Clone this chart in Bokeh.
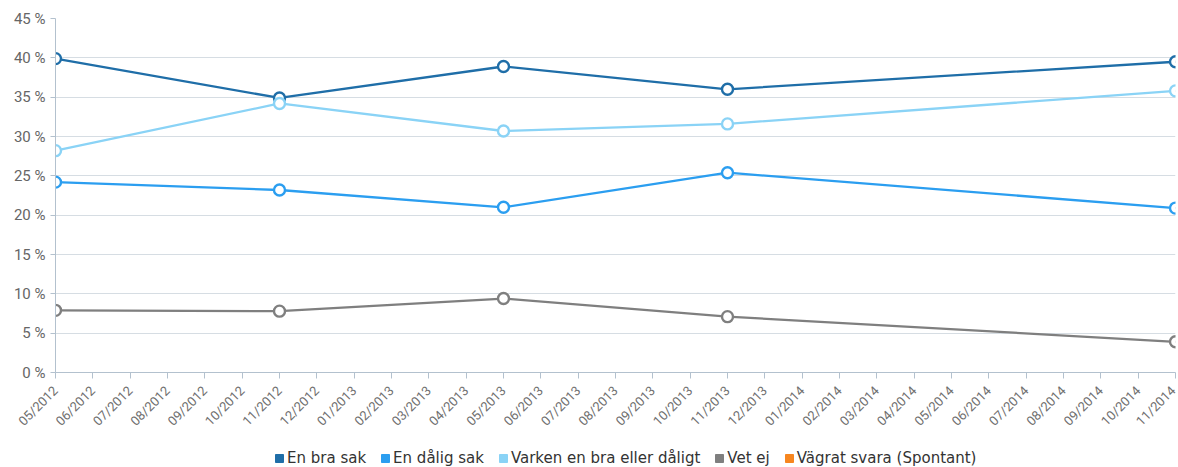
from bokeh.plotting import figure
from bokeh.models import FixedTicker, Legend, LegendItem, ColumnDataSource
from bokeh.layouts import column
from bokeh.embed import file_html
from bokeh.resources import INLINE
import math

months = ["05/2012", "06/2012", "07/2012", "08/2012", "09/2012", "10/2012", "11/2012", "12/2012",
          "01/2013", "02/2013", "03/2013", "04/2013", "05/2013", "06/2013", "07/2013", "08/2013",
          "09/2013", "10/2013", "11/2013", "12/2013", "01/2014", "02/2014", "03/2014", "04/2014",
          "05/2014", "06/2014", "07/2014", "08/2014", "09/2014", "10/2014", "11/2014"]
survey_dates = ["05/2012", "11/2012", "05/2013", "11/2013", "11/2014"]

en_bra_sak = [39.9, 34.9, 38.9, 36.0, 39.5]
en_dalig_sak = [24.2, 23.2, 21.0, 25.4, 20.9]
varken = [28.2, 34.2, 30.7, 31.6, 35.8]
vet_ej = [7.9, 7.8, 9.4, 7.1, 3.9]
vagrat_svara = []

series_names = ["En bra sak", "En dålig sak", "Varken en bra eller dåligt", "Vet ej", "Vägrat svara (Spontant)"]
series_values = [en_bra_sak, en_dalig_sak, varken, vet_ej, vagrat_svara]
colors = ["#1f6ea8", "#2b9ef0", "#8ad3f6", "#7f7f7f", "#f7861f"]

x_idx = [months.index(d) for d in survey_dates]

H = 446
p = figure(width=1178, height=H, output_backend="svg", toolbar_location=None,
           x_range=(0, len(months) - 1), y_range=(0, 45),
           min_border_left=55, min_border_right=3, min_border_top=18, min_border_bottom=H - 372)
p.outline_line_color = None
p.background_fill_color = "white"
p.border_fill_color = "white"

p.xgrid.grid_line_color = None
p.ygrid.grid_line_color = "#d6dde3"
p.ygrid.grid_line_width = 1.2

p.yaxis.ticker = FixedTicker(ticks=list(range(0, 50, 5)))
p.yaxis.major_label_overrides = {t: f"{t} %" for t in range(0, 50, 5)}
p.xaxis.ticker = FixedTicker(ticks=list(range(len(months))))
p.xaxis.major_label_overrides = {i: m for i, m in enumerate(months)}
p.xaxis.major_label_orientation = math.pi / 4

for ax in (p.xaxis, p.yaxis):
    ax.axis_line_color = "#b3c1ce"
    ax.major_tick_line_color = "#b3c1ce"
    ax.minor_tick_line_color = None
    ax.major_tick_in = 0
    ax.major_tick_out = 6
    ax.major_label_text_font = "Roboto"
p.yaxis.major_label_text_font_size = "15px"
p.yaxis.major_label_text_color = "#666666"
p.yaxis.major_tick_out = 5
p.xaxis.major_label_text_font_size = "13px"
p.xaxis.major_label_text_color = "#6e6e6e"
p.xaxis.major_label_standoff = 10

for vals, col in zip(series_values, colors):
    if vals:
        src = ColumnDataSource(dict(x=x_idx[:len(vals)], y=vals))
        p.line("x", "y", source=src, line_color=col, line_width=2.3)
        p.scatter("x", "y", source=src, size=11, fill_color="white", line_color=col, line_width=2.4)

# legend in a separate strip below the chart
lg = figure(width=1178, height=467 - H, output_backend="svg", toolbar_location=None,
            x_range=(0, 1), y_range=(0, 1), min_border=0)
lg.axis.visible = False
lg.grid.visible = False
lg.outline_line_color = None
nan = float("nan")
legend_items = []
for name, col in zip(series_names, colors):
    dummy = lg.quad(left=[nan], right=[nan], top=[nan], bottom=[nan], fill_color=col, line_color=col)
    legend_items.append(LegendItem(label=name, renderers=[dummy]))

legend = Legend(items=legend_items, orientation="horizontal", location=(219, 0),
                label_text_font="DejaVu Sans", label_text_font_size="15px",
                label_text_color="#333333", border_line_color=None, background_fill_alpha=0,
                glyph_width=10, glyph_height=10, spacing=14, label_standoff=3,
                padding=0, margin=0, label_height=18)
lg.add_layout(legend)

open("out.html", "w").write(file_html(column(p, lg, spacing=0), INLINE))
